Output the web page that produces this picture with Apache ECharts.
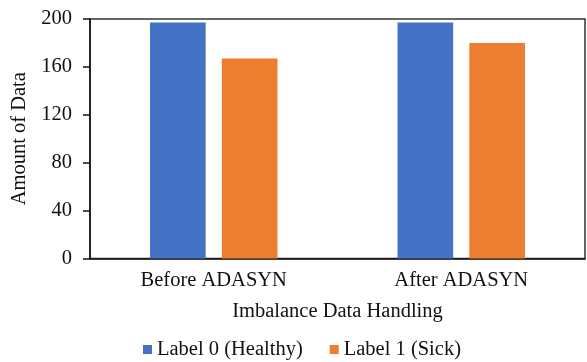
<!DOCTYPE html>
<html>
<head>
<meta charset="utf-8">
<script src="https://cdn.jsdelivr.net/npm/echarts@6/dist/echarts.min.js"></script>
<style>html,body{margin:0;padding:0;background:#fff}#c{width:587px;height:362px}</style>
</head>
<body>
<div id="c"></div>
<script>
const categories = ['Before ADASYN', 'After ADASYN'];
const seriesNames = ['Label 0 (Healthy)', 'Label 1 (Sick)'];
const label0 = [197, 197];
const label1 = [167, 180];
const yTicks = { min: 0, max: 200, interval: 40 };

const chart = echarts.init(document.getElementById('c'), null, { renderer: 'canvas' });
const font = 'Liberation Serif, Times New Roman, serif';
chart.setOption({
  animation: false,
  backgroundColor: '#fff',
  textStyle: { fontFamily: font },
  grid: { left: 90, right: 2, top: 19, bottom: 103.5, show: true, borderColor: '#333', borderWidth: 1.5, backgroundColor: 'transparent' },
  legend: {
    data: seriesNames,
    bottom: -3,
    left: 138,
    itemWidth: 9, itemHeight: 9,
    itemGap: 27,
    icon: 'rect',
    textStyle: { fontFamily: font, fontSize: 20.5, color: '#111' }
  },
  xAxis: {
    type: 'category',
    data: categories,
    name: 'Imbalance Data Handling',
    nameLocation: 'middle',
    nameGap: 43,
    nameTextStyle: { fontFamily: font, fontSize: 20.5, color: '#111' },
    axisLine: { lineStyle: { color: '#111', width: 1.5 } },
    axisTick: { show: false },
    axisLabel: { fontFamily: font, fontSize: 20.5, color: '#111', margin: 12 }
  },
  yAxis: {
    type: 'value',
    min: yTicks.min, max: yTicks.max, interval: yTicks.interval,
    name: 'Amount of Data',
    nameLocation: 'middle',
    nameGap: 55,
    nameTextStyle: { fontFamily: font, fontSize: 20.5, color: '#111' },
    axisLine: { show: true, lineStyle: { color: '#111', width: 1.5 } },
    axisTick: { show: true, inside: false, length: 7, lineStyle: { color: '#111', width: 1.5 } },
    splitLine: { show: false },
    axisLabel: { fontFamily: font, fontSize: 20.5, color: '#111', margin: 18 }
  },
  series: [
    { name: seriesNames[0], type: 'bar', data: label0, itemStyle: { color: '#4472C4' }, barGap: '29%', barCategoryGap: '48.5%' },
    { name: seriesNames[1], type: 'bar', data: label1, itemStyle: { color: '#ED7D31' } }
  ]
});
</script>
</body>
</html>
